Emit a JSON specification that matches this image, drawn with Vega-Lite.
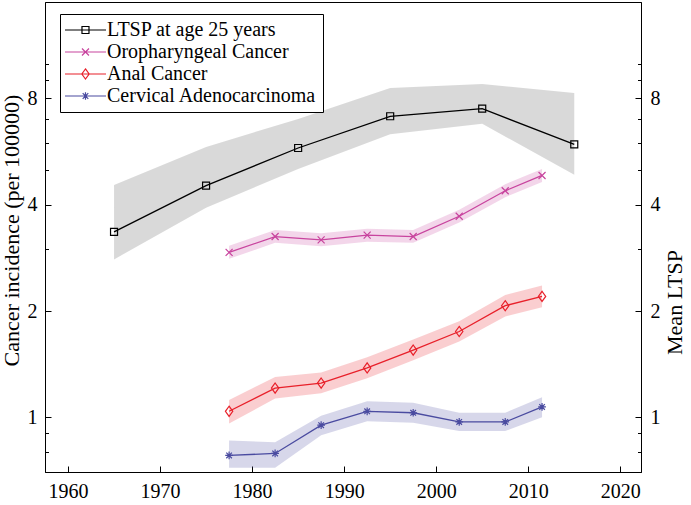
{
  "$schema": "https://vega.github.io/schema/vega-lite/v6.json",
  "width": 596,
  "height": 470,
  "autosize": {"type": "none"},
  "padding": {"left": 45, "top": 2, "right": 50, "bottom": 33},
  "background": "white",
  "config": {
    "view": {"stroke": "black", "strokeWidth": 1},
    "font": "Liberation Serif",
    "axis": {
      "domainColor": "black", "domainWidth": 1, "tickColor": "black", "tickWidth": 1,
      "labelColor": "black", "titleColor": "black",
      "labelFont": "Liberation Serif", "titleFont": "Liberation Serif",
      "labelFontSize": 20, "titleFontSize": 22, "titleFontWeight": "normal", "grid": false
    }
  },
  "data": {"values": [
    {"series": "LTSP at age 25 years", "year": 1965, "value": 3.35, "lo": 2.80, "hi": 4.55},
    {"series": "LTSP at age 25 years", "year": 1975, "value": 4.53, "lo": 3.92, "hi": 5.83},
    {"series": "LTSP at age 25 years", "year": 1985, "value": 5.79, "lo": 5.05, "hi": 7.00},
    {"series": "LTSP at age 25 years", "year": 1995, "value": 7.12, "lo": 6.33, "hi": 8.56},
    {"series": "LTSP at age 25 years", "year": 2005, "value": 7.48, "lo": 6.78, "hi": 8.79},
    {"series": "LTSP at age 25 years", "year": 2015, "value": 5.93, "lo": 4.86, "hi": 8.29},
    {"series": "Oropharyngeal Cancer", "year": 1977.5, "value": 2.93, "lo": 2.81, "hi": 3.06},
    {"series": "Oropharyngeal Cancer", "year": 1982.5, "value": 3.25, "lo": 3.12, "hi": 3.39},
    {"series": "Oropharyngeal Cancer", "year": 1987.5, "value": 3.18, "lo": 3.05, "hi": 3.32},
    {"series": "Oropharyngeal Cancer", "year": 1992.5, "value": 3.28, "lo": 3.14, "hi": 3.42},
    {"series": "Oropharyngeal Cancer", "year": 1997.5, "value": 3.25, "lo": 3.12, "hi": 3.39},
    {"series": "Oropharyngeal Cancer", "year": 2002.5, "value": 3.71, "lo": 3.56, "hi": 3.87},
    {"series": "Oropharyngeal Cancer", "year": 2007.5, "value": 4.38, "lo": 4.20, "hi": 4.57},
    {"series": "Oropharyngeal Cancer", "year": 2011.5, "value": 4.84, "lo": 4.64, "hi": 5.05},
    {"series": "Anal Cancer", "year": 1977.5, "value": 1.04, "lo": 0.96, "hi": 1.12},
    {"series": "Anal Cancer", "year": 1982.5, "value": 1.21, "lo": 1.13, "hi": 1.30},
    {"series": "Anal Cancer", "year": 1987.5, "value": 1.25, "lo": 1.17, "hi": 1.34},
    {"series": "Anal Cancer", "year": 1992.5, "value": 1.38, "lo": 1.29, "hi": 1.48},
    {"series": "Anal Cancer", "year": 1997.5, "value": 1.55, "lo": 1.45, "hi": 1.66},
    {"series": "Anal Cancer", "year": 2002.5, "value": 1.75, "lo": 1.64, "hi": 1.87},
    {"series": "Anal Cancer", "year": 2007.5, "value": 2.07, "lo": 1.93, "hi": 2.22},
    {"series": "Anal Cancer", "year": 2011.5, "value": 2.20, "lo": 2.05, "hi": 2.36},
    {"series": "Cervical Adenocarcinoma", "year": 1977.5, "value": 0.78, "lo": 0.72, "hi": 0.86},
    {"series": "Cervical Adenocarcinoma", "year": 1982.5, "value": 0.79, "lo": 0.72, "hi": 0.85},
    {"series": "Cervical Adenocarcinoma", "year": 1987.5, "value": 0.95, "lo": 0.89, "hi": 1.01},
    {"series": "Cervical Adenocarcinoma", "year": 1992.5, "value": 1.04, "lo": 0.975, "hi": 1.11},
    {"series": "Cervical Adenocarcinoma", "year": 1997.5, "value": 1.03, "lo": 0.965, "hi": 1.10},
    {"series": "Cervical Adenocarcinoma", "year": 2002.5, "value": 0.97, "lo": 0.915, "hi": 1.03},
    {"series": "Cervical Adenocarcinoma", "year": 2007.5, "value": 0.97, "lo": 0.915, "hi": 1.03},
    {"series": "Cervical Adenocarcinoma", "year": 2011.5, "value": 1.07, "lo": 1.00, "hi": 1.14}
  ]},
  "encoding": {
    "x": {"field": "year", "type": "quantitative",
      "scale": {"domain": [1957.5, 2022.25], "nice": false, "zero": false},
      "axis": {"values": [1960, 1970, 1980, 1990, 2000, 2010, 2020], "format": "d", "title": null, "tickSize": -6, "labelPadding": 15}}
  },
  "layer": [
    {
      "transform": [{"filter": "datum.series === 'LTSP at age 25 years'"}],
      "encoding": {
        "color": {"field": "series", "type": "nominal", "legend": null,
          "scale": {"domain": ["LTSP at age 25 years", "Oropharyngeal Cancer", "Anal Cancer", "Cervical Adenocarcinoma"],
                    "range": ["#000000", "#C8449E", "#E8202A", "#4A4BA0"]}}
      },
      "layer": [
        {"mark": {"type": "area", "opacity": 0.15},
         "encoding": {
           "y": {"field": "lo", "type": "quantitative", "scale": {"type": "log", "domain": [0.7, 15], "nice": false}, "axis": null},
           "y2": {"field": "hi"}}},
        {"mark": {"type": "line", "strokeWidth": 1.3},
         "encoding": {
           "y": {"field": "value", "type": "quantitative", "scale": {"type": "log", "domain": [0.7, 15], "nice": false}, "axis": null}}},
        {"mark": {"type": "point", "filled": false, "size": 49, "strokeWidth": 1.2, "opacity": 1},
         "encoding": {
           "y": {"field": "value", "type": "quantitative", "scale": {"type": "log", "domain": [0.7, 15], "nice": false}, "axis": null},
           "shape": {"field": "series", "type": "nominal", "legend": null,
             "scale": {"domain": ["LTSP at age 25 years", "Oropharyngeal Cancer", "Anal Cancer", "Cervical Adenocarcinoma"],
               "range": ["M-1,-1H1V1H-1Z", "M-1,-1L1,1M-1,1L1,-1", "M0,-1.45L1.05,0L0,1.45L-1.05,0Z", "M0,-1.1V1.1M-1.1,0H1.1M-0.8,-0.8L0.8,0.8M-0.8,0.8L0.8,-0.8"]}}}}
      ]
    },
    {
      "transform": [{"filter": "datum.series !== 'LTSP at age 25 years'"}],
      "encoding": {
        "color": {"field": "series", "type": "nominal", "legend": null,
          "scale": {"domain": ["LTSP at age 25 years", "Oropharyngeal Cancer", "Anal Cancer", "Cervical Adenocarcinoma"],
                    "range": ["#000000", "#C8449E", "#E8202A", "#4A4BA0"]}}
      },
      "layer": [
        {"mark": {"type": "area", "opacity": 0.22},
         "encoding": {
           "y": {"field": "lo", "type": "quantitative", "scale": {"type": "log", "domain": [0.7, 15], "nice": false}, "axis": null},
           "y2": {"field": "hi"}}},
        {"mark": {"type": "line", "strokeWidth": 1.3},
         "encoding": {
           "y": {"field": "value", "type": "quantitative", "scale": {"type": "log", "domain": [0.7, 15], "nice": false}, "axis": null}}},
        {"mark": {"type": "point", "filled": false, "size": 49, "strokeWidth": 1.2, "opacity": 1},
         "encoding": {
           "y": {"field": "value", "type": "quantitative", "scale": {"type": "log", "domain": [0.7, 15], "nice": false}, "axis": null},
           "shape": {"field": "series", "type": "nominal", "legend": null,
             "scale": {"domain": ["LTSP at age 25 years", "Oropharyngeal Cancer", "Anal Cancer", "Cervical Adenocarcinoma"],
               "range": ["M-1,-1H1V1H-1Z", "M-1,-1L1,1M-1,1L1,-1", "M0,-1.45L1.05,0L0,1.45L-1.05,0Z", "M0,-1.1V1.1M-1.1,0H1.1M-0.8,-0.8L0.8,0.8M-0.8,0.8L0.8,-0.8"]}}}}
      ]
    },
    {
      "mark": {"type": "point", "opacity": 0},
      "encoding": {
        "y": {"field": "value", "type": "quantitative", "scale": {"type": "log", "domain": [0.7, 15], "nice": false},
          "axis": {"orient": "left", "title": "Cancer incidence (per 100000)",
            "values": [1, 2, 4, 8], "format": "d", "tickSize": -6,
            "labelPadding": 14, "titlePadding": 4, "titleY": 228}}
      }
    },
    {
      "mark": {"type": "point", "opacity": 0},
      "encoding": {
        "y": {"field": "value", "type": "quantitative", "scale": {"type": "log", "domain": [0.7, 15], "nice": false},
          "axis": {"orient": "right", "title": "Mean LTSP",
            "values": [1, 2, 4, 8], "format": "d", "tickSize": -6,
            "labelPadding": 15, "titleAngle": -90, "titleBaseline": "top", "titleY": 300, "titlePadding": 4}}
      }
    },
    {
      "mark": {"type": "point", "opacity": 0},
      "encoding": {
        "y": {"field": "value", "type": "quantitative", "scale": {"type": "log", "domain": [0.7, 15], "nice": false},
          "axis": {"orient": "left", "title": null, "values": [0.8, 0.9, 3, 5, 6, 7, 9, 10], "labels": false, "domain": false, "tickSize": -3.5}}
      }
    },
    {
      "mark": {"type": "point", "opacity": 0},
      "encoding": {
        "y": {"field": "value", "type": "quantitative", "scale": {"type": "log", "domain": [0.7, 15], "nice": false},
          "axis": {"orient": "right", "title": null, "values": [0.8, 0.9, 3, 5, 6, 7, 9, 10], "labels": false, "domain": false, "tickSize": -3.5}}
      }
    },
    {
      "mark": {"type": "point", "filled": false, "opacity": 0, "size": 49},
      "encoding": {
        "y": {"field": "value", "type": "quantitative", "scale": {"type": "log", "domain": [0.7, 15], "nice": false}, "axis": null},
        "color": {"field": "series", "type": "nominal",
          "scale": {"domain": ["LTSP at age 25 years", "Oropharyngeal Cancer", "Anal Cancer", "Cervical Adenocarcinoma"],
                    "range": ["#000000", "#C8449E", "#E8202A", "#4A4BA0"]},
          "legend": {
            "title": null, "orient": "none", "legendX": 15, "legendY": 12,
            "labelFont": "Liberation Serif", "labelFontSize": 20, "labelColor": "black", "labelLimit": 400,
            "strokeColor": "black", "fillColor": "white", "padding": 6, "rowPadding": 2,
            "symbolSize": 49, "labelOffset": 21, "symbolOpacity": 1, "symbolStrokeWidth": 1.2}},
        "shape": {"field": "series", "type": "nominal",
          "scale": {"domain": ["LTSP at age 25 years", "Oropharyngeal Cancer", "Anal Cancer", "Cervical Adenocarcinoma"],
            "range": ["M-3.14,0H8.57M1.71,-1H3.71V1H1.71Z", "M-3.14,0H8.57M1.71,-1L3.71,1M1.71,1L3.71,-1", "M-3.14,0H8.57M2.71,-1.45L3.76,0L2.71,1.45L1.66,0Z", "M-3.14,0H8.57M2.71,-1.1V1.1M1.61,0H3.81M1.91,-0.8L3.51,0.8M1.91,0.8L3.51,-0.8"]},
          "legend": {
            "title": null, "orient": "none", "legendX": 15, "legendY": 12,
            "labelFont": "Liberation Serif", "labelFontSize": 20, "labelColor": "black", "labelLimit": 400,
            "strokeColor": "black", "fillColor": "white", "padding": 6, "rowPadding": 2,
            "symbolSize": 49, "labelOffset": 21, "symbolOpacity": 1, "symbolStrokeWidth": 1.2}}
      }
    }
  ],
  "resolve": {"scale": {"color": "independent", "shape": "independent"}, "axis": {"y": "independent"}}
}
